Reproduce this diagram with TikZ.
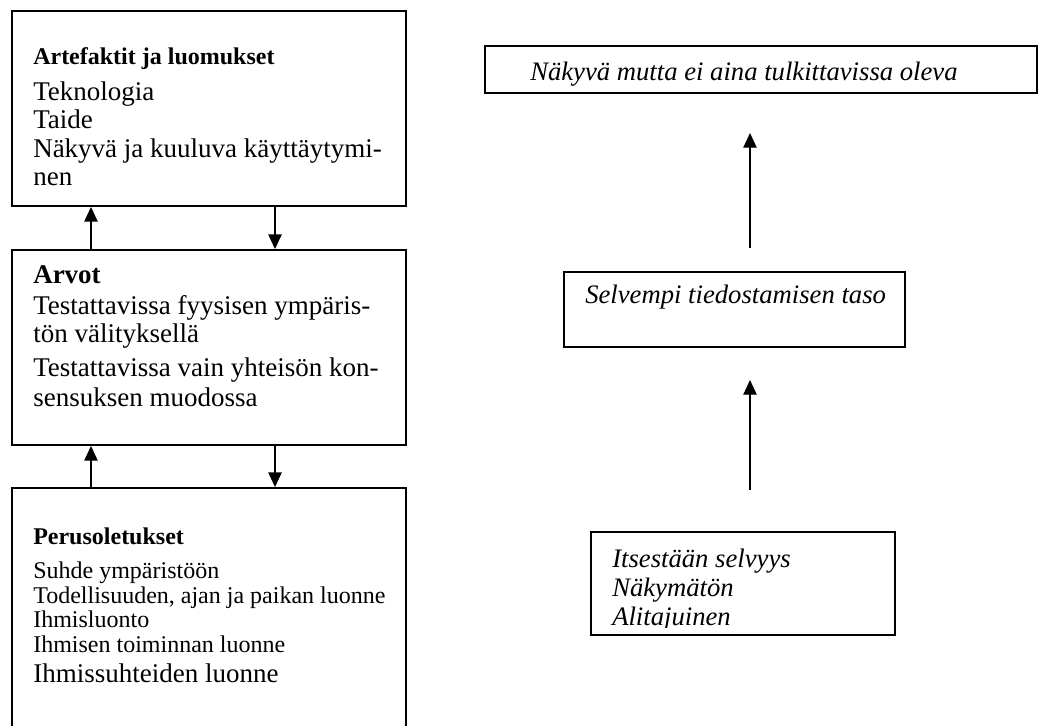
\documentclass[tikz,border=0pt]{standalone}
\usepackage{fontspec}
\setmainfont{Liberation Serif}
\usetikzlibrary{arrows.meta,fit}
\begin{document}
\begin{tikzpicture}[x=0.75pt,y=-0.75pt,
  box/.style={draw,line width=1.4pt,inner sep=0pt},
  conn/.style={line width=1pt,-{Triangle[length=11pt,width=10pt]}},
  txt/.style={anchor=base west,inner sep=0pt},
  big/.style={txt,font=\fontsize{20.25}{21}\selectfont},
  hd/.style={txt,font=\bfseries\fontsize{18}{20}\selectfont},
  hdbig/.style={txt,font=\bfseries\fontsize{20.25}{21}\selectfont},
  mid/.style={txt,font=\fontsize{18}{19}\selectfont},
  itx/.style={txt,font=\itshape\fontsize{20}{21}\selectfont}]
\path[use as bounding box,fill=white] (0,0) rectangle (1060,725);
\clip (0,0) rectangle (1060,725);
% left column boxes
\node[box,fit={(12,11)(406,206)}] (b1) {};
\node[box,fit={(12,250)(406,445)}] (b2) {};
\node[box,fit={(12,488)(406,770)}] (b3) {};
% box 1 text
\node[hd]  (t11) at (33,64)  {Artefaktit ja luomukset};
\node[big] (t12) at (33,100) {Teknologia};
\node[big] (t13) at (33,128) {Taide};
\node[big] (t14) at (33,157) {Näkyvä ja kuuluva käyttäytymi-};
\node[big] (t15) at (33,185) {nen};
% box 2 text
\node[hdbig] (t21) at (33,283) {Arvot};
\node[big] (t22) at (33,314) {Testattavissa fyysisen ympäris-};
\node[big] (t23) at (33,342) {tön välityksellä};
\node[big] (t24) at (33,376) {Testattavissa vain yhteisön kon-};
\node[big] (t25) at (33,406) {sensuksen muodossa};
% box 3 text
\node[hd]  (t31) at (33,544) {Perusoletukset};
\node[mid] (t32) at (33,578) {Suhde ympäristöön};
\node[mid] (t33) at (33,603) {Todellisuuden, ajan ja paikan luonne};
\node[mid] (t34) at (33,627) {Ihmisluonto};
\node[mid] (t35) at (33,652) {Ihmisen toiminnan luonne};
\node[big] (t36) at (33,682) {Ihmissuhteiden luonne};
% left arrows
\coordinate (ax1) at (91,0);
\coordinate (ax2) at (275,0);
\draw[conn] (b2.north -| ax1) -- (b1.south -| ax1);
\draw[conn] (b1.south -| ax2) -- (b2.north -| ax2);
\draw[conn] (b3.north -| ax1) -- (b2.south -| ax1);
\draw[conn] (b2.south -| ax2) -- (b3.north -| ax2);
% right column
\node[box,fit={(485,46)(1037,93)}] (r1) {};
\node[itx] (rt1) at (530,80) {Näkyvä mutta ei aina tulkittavissa oleva};
\node[box,fit={(564,272)(905,347)}] (r2) {};
\node[itx] (rt2) at (585,303) {Selvempi tiedostamisen taso};
\node[box,fit={(591,532)(895,635)}] (r3) {};
\begin{scope}
  \clip (591,532) rectangle (895,627);
  \node[itx] (rt31) at (612,567) {Itsestään selvyys};
  \node[itx] (rt32) at (612,596) {Näkymätön};
  \node[itx] (rt33) at (612,625) {Alitajuinen};
\end{scope}
\coordinate (ra1) at (750,248);
\coordinate (rb1) at (750,133);
\coordinate (ra2) at (750,490);
\coordinate (rb2) at (750,380);
\draw[conn] (ra1) -- (rb1);
\draw[conn] (ra2) -- (rb2);
\end{tikzpicture}
\end{document}
